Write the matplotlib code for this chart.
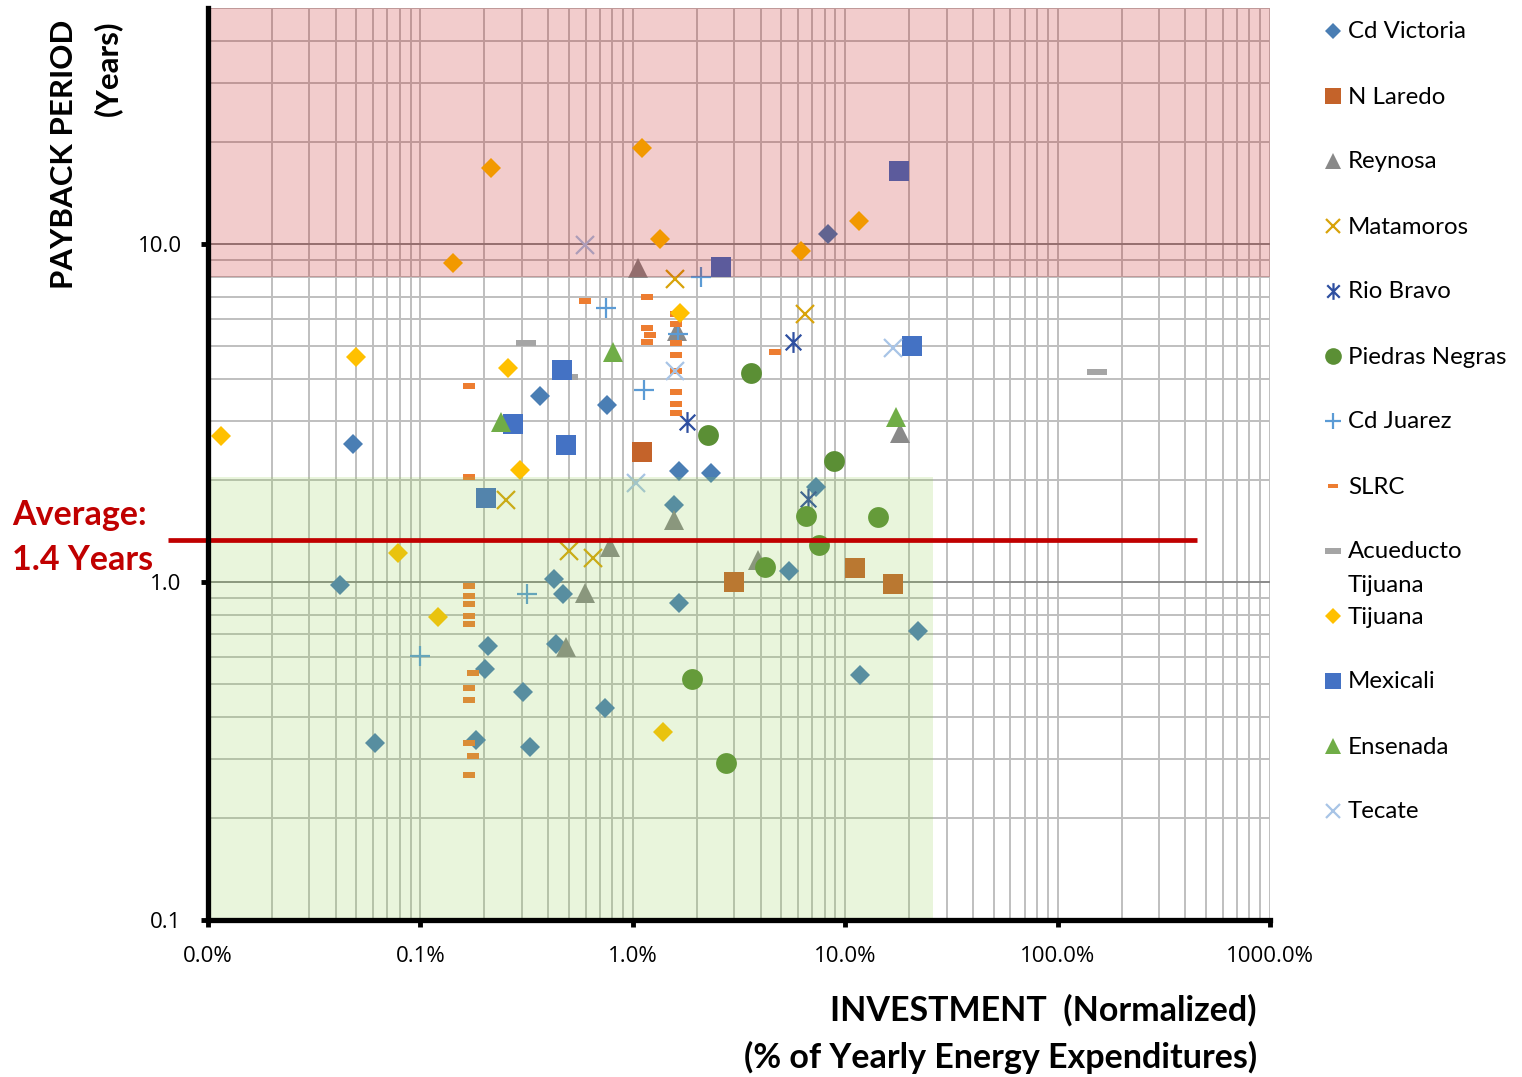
"""Payback period vs normalized investment for each plant (log-log scatter)."""
import matplotlib
matplotlib.use("Agg")
import matplotlib.pyplot as plt
from matplotlib.lines import Line2D
from matplotlib.path import Path
from matplotlib.ticker import FuncFormatter, LogLocator, NullFormatter

# x = investment (% of yearly energy expenditures), y = payback period (years)
cd_victoria_x = [8.28, 0.048, 0.365, 0.755, 1.65, 2.33, 1.56, 7.27, 0.0418, 0.425, 0.468, 5.43,
                 1.65, 0.207, 0.434, 0.201, 0.303, 0.738, 22.0, 11.8, 0.061, 0.182, 0.327]
cd_victoria_y = [10.7, 2.57, 3.56, 3.35, 2.13, 2.11, 1.69, 1.91, 0.98, 1.02, 0.92, 1.08,
                 0.867, 0.647, 0.656, 0.554, 0.474, 0.425, 0.717, 0.532, 0.335, 0.34, 0.324]
n_laredo_x = [1.10, 2.99, 11.1, 16.8]
n_laredo_y = [2.42, 1.0, 1.10, 0.99]
reynosa_x = [1.06, 1.61, 18.1, 1.56, 0.78, 3.88, 0.594, 0.484]
reynosa_y = [8.53, 5.54, 2.77, 1.53, 1.27, 1.16, 0.93, 0.643]
matamoros_x = [1.58, 6.45, 0.252, 0.50, 0.648]
matamoros_y = [7.88, 6.22, 1.75, 1.24, 1.18]
rio_bravo_x = [5.67, 1.79, 6.67]
rio_bravo_y = [5.14, 2.98, 1.76]
piedras_negras_x = [3.59, 2.25, 8.84, 6.53, 14.2, 7.51, 4.18, 1.90, 2.74]
piedras_negras_y = [4.16, 2.73, 2.29, 1.57, 1.56, 1.29, 1.11, 0.518, 0.292]
cd_juarez_x = [2.09, 0.746, 1.13, 1.63, 0.317, 0.0993]
cd_juarez_y = [8.0, 6.48, 3.71, 5.43, 0.92, 0.605]
slrc_x = [0.594, 0.169, 0.169, 1.164, 1.164, 1.20, 1.164, 1.594, 1.594, 1.594, 1.594, 1.594,
          1.594, 1.594, 1.594, 4.66, 0.169, 0.169, 0.169, 0.169, 0.169, 0.1766, 0.169, 0.169,
          0.169, 0.1766, 0.169]
slrc_y = [6.79, 3.81, 2.05, 6.98, 5.65, 5.39, 5.14, 6.22, 5.81, 5.10, 4.71, 4.22,
          3.66, 3.37, 3.17, 4.80, 0.973, 0.909, 0.861, 0.794, 0.752, 0.539, 0.487, 0.449,
          0.335, 0.305, 0.268]
acueducto_x = [0.313, 153.0, 0.494]
acueducto_y = [5.10, 4.19, 4.05]
tijuana_x = [0.214, 1.10, 0.142, 1.35, 6.18, 11.6, 0.01148, 0.0497, 0.258, 0.294, 1.66,
             0.0783, 0.121, 1.38]
tijuana_y = [16.8, 19.2, 8.79, 10.35, 9.53, 11.7, 2.70, 4.64, 4.31, 2.15, 6.26,
             1.22, 0.788, 0.361]
mexicali_x = [17.9, 2.60, 20.6, 0.463, 0.272, 0.484, 0.203]
mexicali_y = [16.5, 8.55, 5.0, 4.25, 2.94, 2.55, 1.77]
ensenada_x = [0.805, 0.239, 17.3]
ensenada_y = [4.80, 2.98, 3.07]
tecate_x = [0.594, 1.58, 16.8, 1.04]
tecate_y = [9.93, 4.22, 4.93, 1.96]

series_names = ["Cd Victoria", "N Laredo", "Reynosa", "Matamoros", "Rio Bravo",
                "Piedras Negras", "Cd Juarez", "SLRC", "Acueducto\nTijuana", "Tijuana",
                "Mexicali", "Ensenada", "Tecate"]

# zones and average
RED_ZONE_MIN = 8.0          # years
GREEN_ZONE_MAX_Y = 2.04     # years
GREEN_ZONE_MAX_X = 26.0     # %
AVG_LINE_Y = 1.33
AVG_LINE_X = (0.00647, 452.0)
AVG_TEXT = "Average:\n1.4 Years"

XLIM = (0.01, 1000.0)
YLIM = (0.1, 50.0)

# ---- marker styles -------------------------------------------------------
star = Path([(0, -1), (0, 1), (-0.75, -0.75), (0.75, 0.75), (-0.75, 0.75), (0.75, -0.75)],
            [Path.MOVETO, Path.LINETO] * 3)
dash_short = [(-1, -0.48), (1, -0.48), (1, 0.48), (-1, 0.48), (-1, -0.48)]
dash_long = [(-1, -0.32), (1, -0.32), (1, 0.32), (-1, 0.32), (-1, -0.32)]

styles = [
    dict(marker="D", color="#4A7EB4", ms=10.2, filled=True),
    dict(marker="s", color="#C4632A", ms=14.5, filled=True),
    dict(marker="^", color="#898989", ms=14.5, filled=True),
    dict(marker="x", color="#D8A30A", ms=13, filled=False),
    dict(marker=star, color="#2E4FA0", ms=15, filled=False),
    dict(marker="o", color="#5B8F35", ms=15, filled=True),
    dict(marker="+", color="#5B9BD5", ms=14, filled=False),
    dict(marker=dash_short, color="#ED7D31", ms=8.2, filled=True),
    dict(marker=dash_long, color="#A5A5A5", ms=14.5, filled=True),
    dict(marker="D", color="#FFC000", ms=10.2, filled=True),
    dict(marker="s", color="#4472C4", ms=14.5, filled=True),
    dict(marker="^", color="#70AD47", ms=14.5, filled=True),
    dict(marker="x", color="#A8C4E6", ms=13, filled=False),
]

TITLE_FONT = ["Lato", "DejaVu Sans"]
TICK_FONT = ["Open Sans", "DejaVu Sans"]


def marker_kwargs(st, scale=1.0):
    kw = dict(marker=st["marker"], markersize=st["ms"] * scale, linestyle="none")
    if st["filled"]:
        kw.update(markerfacecolor=st["color"], markeredgewidth=0)
    else:
        kw.update(markerfacecolor="none", markeredgecolor=st["color"], markeredgewidth=1.6)
    return kw


def main():
    data = [
        (cd_victoria_x, cd_victoria_y), (n_laredo_x, n_laredo_y), (reynosa_x, reynosa_y),
        (matamoros_x, matamoros_y), (rio_bravo_x, rio_bravo_y),
        (piedras_negras_x, piedras_negras_y), (cd_juarez_x, cd_juarez_y), (slrc_x, slrc_y),
        (acueducto_x, acueducto_y), (tijuana_x, tijuana_y), (mexicali_x, mexicali_y),
        (ensenada_x, ensenada_y), (tecate_x, tecate_y),
    ]

    W, H = 1522, 1077
    fig = plt.figure(figsize=(W / 100, H / 100), dpi=100)
    ax = fig.add_axes([208 / W, 1 - 920 / H, (1270 - 208) / W, (920 - 8) / H])
    ax.set_xscale("log")
    ax.set_yscale("log")
    ax.set_xlim(*XLIM)
    ax.set_ylim(*YLIM)

    # grid
    ax.xaxis.set_major_locator(LogLocator(base=10, numticks=12))
    ax.xaxis.set_minor_locator(LogLocator(base=10, subs=range(2, 10), numticks=12))
    ax.yaxis.set_major_locator(LogLocator(base=10, numticks=12))
    ax.yaxis.set_minor_locator(LogLocator(base=10, subs=range(2, 10), numticks=12))
    ax.xaxis.set_minor_formatter(NullFormatter())
    ax.yaxis.set_minor_formatter(NullFormatter())
    ax.xaxis.set_major_formatter(FuncFormatter(lambda v, _: f"{v:.1f}%"))
    ax.yaxis.set_major_formatter(FuncFormatter(lambda v, _: f"{v:.1f}"))
    ax.set_axisbelow(True)
    ax.grid(which="minor", color="#BFBFBF", lw=1.4)
    ax.grid(which="major", axis="x", color="#BFBFBF", lw=1.4)
    ax.grid(which="major", axis="y", color="#8A8A8A", lw=1.4)

    for i, ((xs, ys), st) in enumerate(zip(data, styles)):
        ax.plot(xs, ys, zorder=3 + i * 0.01, **marker_kwargs(st))

    # shaded zones sit on top of the points (semi transparent)
    ax.fill_between([XLIM[0], XLIM[1]], RED_ZONE_MIN, YLIM[1],
                    color="#C00000", alpha=0.2, lw=0, zorder=4)
    ax.fill_between([XLIM[0], GREEN_ZONE_MAX_X], YLIM[0], GREEN_ZONE_MAX_Y,
                    color="#92D050", alpha=0.2, lw=0, zorder=4)

    ax.plot(AVG_LINE_X, [AVG_LINE_Y, AVG_LINE_Y], color="#C00000", lw=3.4,
            clip_on=False, zorder=7, solid_capstyle="butt")

    for side in ("top", "right"):
        ax.spines[side].set_visible(False)
    for side in ("left", "bottom"):
        ax.spines[side].set_linewidth(3.8)
        ax.spines[side].set_color("black")
        ax.spines[side].set_zorder(8)
    ax.tick_params(which="minor", length=0)
    ax.tick_params(which="major", direction="out", length=5, width=3.5, color="black",
                   labelsize=16, pad=14)
    for lab in ax.get_xticklabels() + ax.get_yticklabels():
        lab.set_fontfamily(TICK_FONT)

    # axis titles
    fig.text(1257 / W, 1 - 1034 / H, "INVESTMENT  (Normalized)\n(% of Yearly Energy Expenditures)",
             ha="right", va="center", multialignment="right", fontsize=24.5,
             fontweight="bold", family=TITLE_FONT, linespacing=1.52)
    fig.text(86 / W, 1 - 20 / H, "PAYBACK PERIOD\n(Years)", rotation=90, ha="center",
             va="top", multialignment="right", fontsize=22.5, fontweight="bold",
             family=TITLE_FONT, linespacing=1.65)
    fig.text(12 / W, 1 - 538 / H, AVG_TEXT, ha="left", va="center", color="#C00000",
             fontsize=24.5, fontweight="bold", family=TITLE_FONT, linespacing=1.5)

    # legend, drawn by hand so the two-line entry keeps the regular spacing
    top, step, line_gap = 31, 65, 33
    for i, (name, st) in enumerate(zip(series_names, styles)):
        yc = top + i * step
        fig.add_artist(Line2D([1333 / W], [1 - yc / H], transform=fig.transFigure,
                              **marker_kwargs(st, 0.8)))
        for k, part in enumerate(name.split("\n")):
            fig.text(1348 / W, 1 - (yc + 1 + k * line_gap) / H, part, ha="left",
                     va="center", fontsize=17.3, family=TITLE_FONT)

    fig.savefig("out.png", dpi=100)
    plt.close(fig)


if __name__ == "__main__":
    main()
